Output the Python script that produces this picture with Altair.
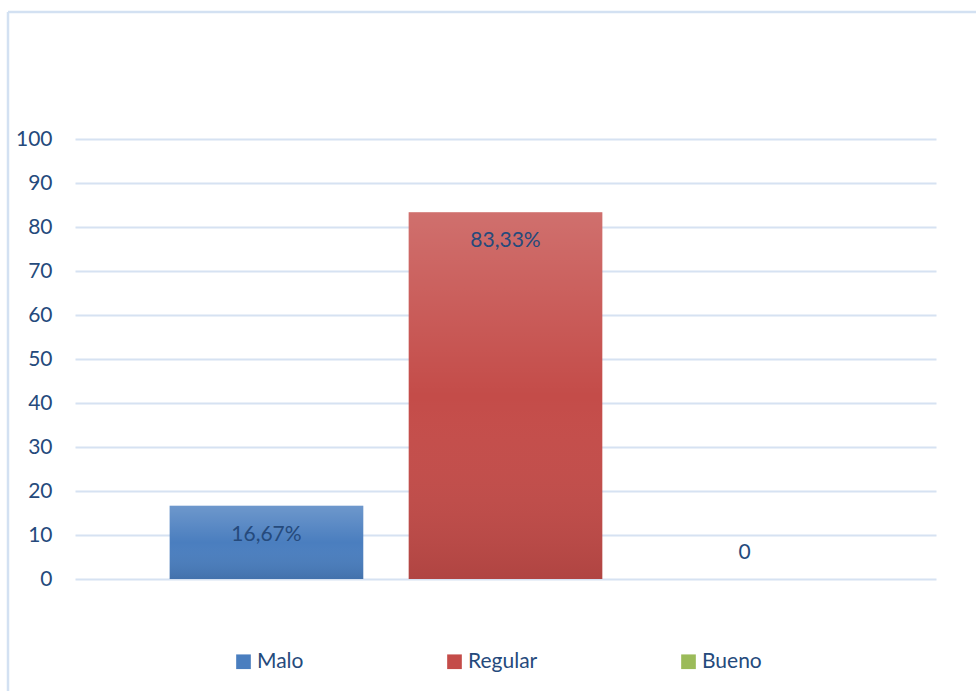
import altair as alt
import pandas as pd

categories = ["Malo", "Regular", "Bueno"]
values = [16.67, 83.33, 0]
labels = ["16,67%", "83,33%", "0"]
colors = ["#4a7ebf", "#c44c49", "#9bbb59"]

df = pd.DataFrame({"cat": categories, "val": values, "lab": labels})

FONT = "Lato"
TXT = "#254a7c"

x_enc = alt.X("cat:N", sort=categories,
              scale=alt.Scale(paddingInner=0.19, paddingOuter=0.396),
              axis=alt.Axis(labels=False, ticks=False, domain=False, title=None, grid=False))
y_scale = alt.Scale(domain=[0, 100], nice=False)

base = alt.Chart(df)

bars = base.mark_bar().encode(
    x=x_enc,
    y=alt.Y("val:Q", scale=y_scale,
            axis=alt.Axis(values=list(range(0, 101, 10)), title=None, ticks=False, domain=False,
                          labelPadding=23, labelFont=FONT, labelFontSize=21, labelColor=TXT,
                          gridColor="#d6e2f2", gridWidth=2)),
    color=alt.Color("cat:N", sort=categories,
                    scale=alt.Scale(domain=categories, range=colors),
                    legend=alt.Legend(title=None, orient="none", direction="horizontal",
                                      legendX=158, legendY=512, symbolType="square",
                                      symbolSize=215, symbolStrokeWidth=0,
                                      columnPadding=140, labelFont=FONT, labelFontSize=21,
                                      labelColor=TXT, labelOffset=3)),
)

shade = base.mark_bar(
    color=alt.Gradient(
        gradient="linear",
        stops=[alt.GradientStop(color="rgba(255,255,255,0.2)", offset=0),
               alt.GradientStop(color="rgba(255,255,255,0)", offset=0.5),
               alt.GradientStop(color="rgba(0,0,0,0.1)", offset=1)],
        x1=0, x2=0, y1=0, y2=1)
).encode(x=x_enc, y=alt.Y("val:Q", scale=y_scale))

txt_in = base.transform_filter("datum.val > 0").mark_text(
    baseline="middle", dy=29, font=FONT, fontSize=21, color=TXT
).encode(x=x_enc, y=alt.Y("val:Q", scale=y_scale), text="lab:N")

txt_zero = base.transform_filter("datum.val == 0").mark_text(
    baseline="middle", dy=-26, font=FONT, fontSize=21, color=TXT
).encode(x=x_enc, y=alt.Y("val:Q", scale=y_scale), text="lab:N")

frame_data = alt.Data(values=[{"a": 1}])
frame_left = alt.Chart(frame_data).mark_rule(color="#d3e1f2", strokeWidth=2.5).encode(
    x=alt.value(-67), y=alt.value(-127), y2=alt.value(560))
frame_top = alt.Chart(frame_data).mark_rule(color="#d3e1f2", strokeWidth=2.5).encode(
    x=alt.value(-67), x2=alt.value(910), y=alt.value(-127))

chart = alt.layer(bars, shade, txt_in, txt_zero, frame_left, frame_top).properties(
    width=861, height=440,
    padding={"left": 75, "top": 139, "right": 40, "bottom": 112},
    autosize=alt.AutoSizeParams(type="none"),
    background="white",
).configure_view(stroke=None)

chart.save("out.html", embed_options={"renderer": "svg", "actions": False})
